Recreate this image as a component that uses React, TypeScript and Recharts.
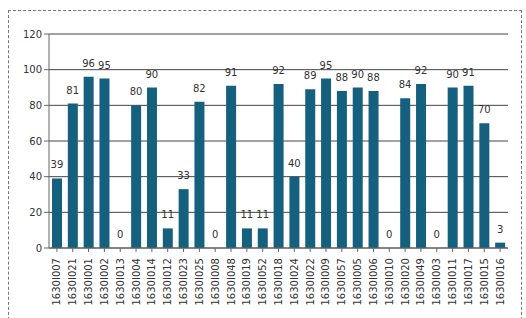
import React from 'react';
import { ComposedChart, Bar, Line, XAxis, YAxis, CartesianGrid, LabelList } from 'recharts';

const categories = [
  '1630I007', '1630I021', '1630I001', '1630I002', '1630I013', '1630I004', '1630I014', '1630I012',
  '1630I023', '1630I025', '1630I008', '1630I048', '1630I019', '1630I052', '1630I018', '1630I024',
  '1630I022', '1630I009', '1630I057', '1630I005', '1630I006', '1630I010', '1630I020', '1630I049',
  '1630I003', '1630I011', '1630I017', '1630I015', '1630I016',
];
const scores = [
  39, 81, 96, 95, 0, 80, 90, 11, 33, 82, 0, 91, 11, 11, 92, 40, 89, 95, 88, 90, 88, 0, 84, 92, 0, 90, 91, 70, 3,
];
const yTicks = [0, 20, 40, 60, 80, 100, 120];

const data = categories.map((name, i) => ({ name, value: scores[i] }));

const XTick = (props: any) => {
  const { x, y, payload } = props;
  return (
    <g transform={`translate(${x},${y + 4})`}>
      <text x={0} y={0} dy={3.5} textAnchor="end" transform="rotate(-90)" fontSize={10} fill="#333" fontFamily="DejaVu Sans">
        {payload.value}
      </text>
    </g>
  );
};

export default function App() {
  return (
    <div style={{ position: 'absolute', left: 0, top: 0, width: 526, height: 318, background: '#fff' }}>
      <div style={{ position: 'absolute', left: 8, top: 10, width: 514, height: 320, border: '1px dashed #777', boxSizing: 'border-box' }} />
      <ComposedChart width={526} height={318} data={data} margin={{ top: 34, right: 18, left: 0, bottom: 0 }}>
        <CartesianGrid vertical={false} stroke="#444" strokeWidth={1} />
        <XAxis dataKey="name" interval={0} height={70} tick={<XTick />} tickLine={{ stroke: '#666' }} axisLine={{ stroke: '#666' }} tickSize={4} />
        <YAxis width={49} domain={[0, 120]} ticks={yTicks} tick={{ fontSize: 10, fill: '#333', fontFamily: 'DejaVu Sans' }} tickLine={{ stroke: '#666' }} axisLine={{ stroke: '#666' }} tickSize={5} />
        <Bar dataKey="value" fill="#15607f" barSize={10} isAnimationActive={false} />
        <Line dataKey="value" stroke="none" dot={false} activeDot={false} isAnimationActive={false} legendType="none">
          <LabelList dataKey="value" position="top" offset={10} fontSize={10} fill="#333" fontFamily="DejaVu Sans" />
        </Line>
      </ComposedChart>
    </div>
  );
}
